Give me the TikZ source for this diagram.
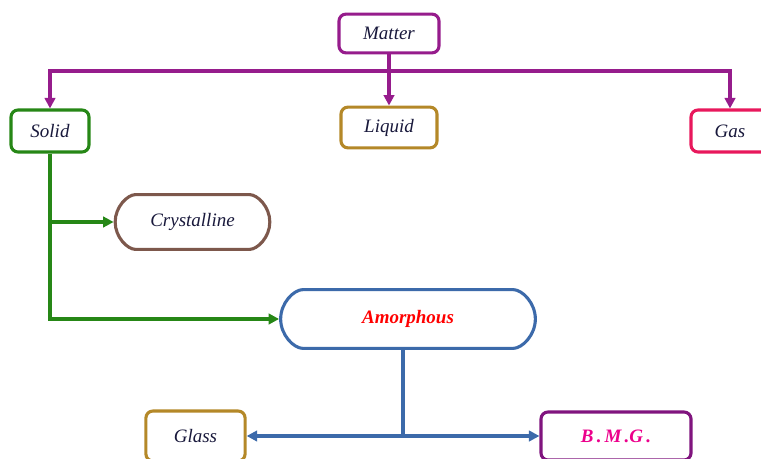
\documentclass[tikz,border=0pt]{standalone}
\usepackage{fontspec}
\setmainfont{Liberation Serif}
\usetikzlibrary{arrows.meta,shapes.misc}

\definecolor{mattercol}{RGB}{150,28,140}
\definecolor{solidcol}{RGB}{38,135,22}
\definecolor{goldcol}{RGB}{180,136,40}
\definecolor{gascol}{RGB}{232,24,92}
\definecolor{crystcol}{RGB}{125,88,76}
\definecolor{amorcol}{RGB}{60,106,170}
\definecolor{bmgcol}{RGB}{128,20,126}
\definecolor{textcol}{RGB}{25,25,60}

\tikzset{
  box/.style={draw, line width=2.2pt, rounded corners=5pt, fill=white,
    text=textcol, font=\fontsize{13.5}{16}\selectfont\itshape},
  pill/.style={box, rounded rectangle},
  link/.style={line width=2.2pt, -{Triangle[width=7.5pt,length=7.5pt]}}
}

\begin{document}
\begin{tikzpicture}[x=0.025cm, y=-0.025cm]

        \clip (0,0) rectangle (761,459);

        % Materia y sus estados
        \node[box, draw=mattercol, minimum width=2.5cm, minimum height=0.97cm] (matter) at (389,33.5) {Matter};
        \node[box, draw=solidcol, minimum width=1.95cm, minimum height=1.05cm] (solid) at (50,131) {Solid};
        \node[box, draw=goldcol, minimum width=2.4cm, minimum height=1.02cm] (liquid) at (389,127.5) {Liquid};
        \node[box, draw=gascol, minimum width=1.95cm, minimum height=1.05cm] (gas) at (730,131) {Gas};

        \coordinate (bus) at (389,71);

        \draw[mattercol, line width=2.2pt] (matter.south) -- (bus);
        \draw[link, mattercol] (bus) -| (solid.north);
        \draw[link, mattercol] (bus) -| (gas.north);
        \draw[link, mattercol] (bus) -- (liquid.north);

        % Solidos
        \node[pill, draw=crystcol, minimum width=4.1cm, minimum height=1.37cm] (crystal) at (192.5,222) {Crystalline};
        \node[pill, draw=amorcol, minimum width=6.6cm, minimum height=1.47cm, text=red, font=\fontsize{13.5}{16}\selectfont\bfseries\itshape] (amorph) at (408,319) {Amorphous};

        \draw[link, solidcol] (solid.south) |- (crystal.west);
        \draw[link, solidcol] (solid.south) |- (amorph.west);

        % Amorfos
        \node[box, draw=goldcol, minimum width=2.48cm, minimum height=1.25cm] (glass) at (195.5,436) {Glass};
        \node[box, draw=bmgcol, minimum width=3.75cm, minimum height=1.2cm, text=magenta, font=\fontsize{13.5}{16}\selectfont\bfseries\itshape] (bmg) at (616,436) {B\,.\,M\,.G\,.};

        \coordinate (drop) at ([xshift=-0.125cm]amorph.south);
        \coordinate (split) at (drop |- glass.east);

        \draw[amorcol, line width=2.2pt] (drop) -- (split);
        \draw[link, amorcol] (split) -- (glass.east);
        \draw[link, amorcol] (split) -- (bmg.west);

    \end{tikzpicture}
\end{document}
